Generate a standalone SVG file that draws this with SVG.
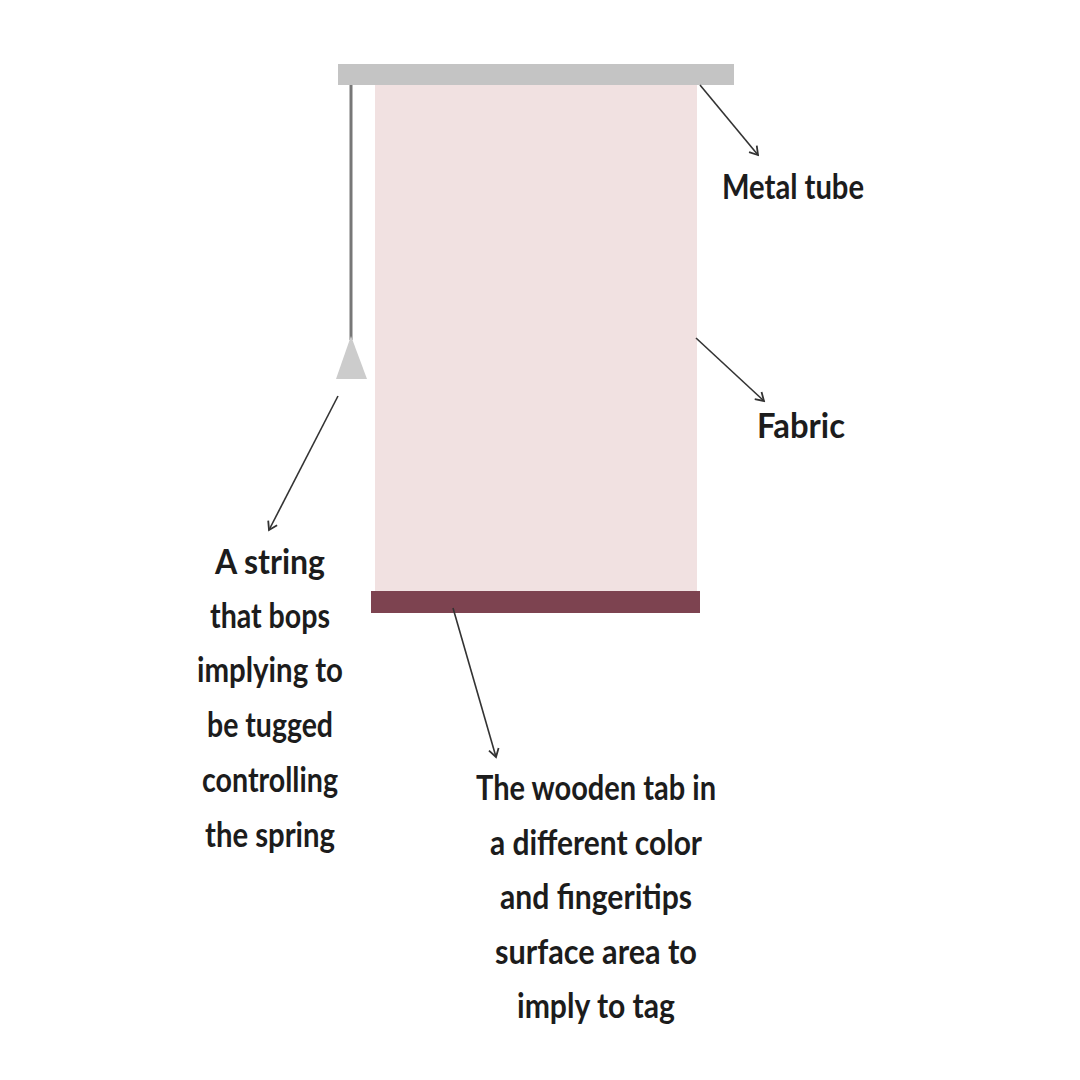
<svg xmlns="http://www.w3.org/2000/svg" width="1080" height="1080" viewBox="0 0 1080 1080">
<style>
.lbl{font-family:Lato,"Open Sans","Liberation Sans",sans-serif;font-size:35px;font-weight:700;fill:#1c1c1c;text-anchor:middle}
.arr{stroke:#333;stroke-width:1.6;fill:none;marker-end:url(#ah)}
</style>
<defs>
<marker id="ah" viewBox="0 0 12 12" refX="10" refY="6" markerWidth="12" markerHeight="12" markerUnits="userSpaceOnUse" orient="auto">
<path d="M2,1 L10,6 L2,11" fill="none" stroke="#333" stroke-width="1.8"/>
</marker>
</defs>
<rect width="1080" height="1080" fill="#ffffff"/>
<g id="fabric"><rect x="375" y="85" width="322" height="507" fill="#f1e1e1"/></g>
<g id="metal-tube"><rect x="338" y="64" width="396" height="21" fill="#c4c4c4"/></g>
<g id="wooden-tab"><rect x="371" y="591" width="329" height="22" fill="#7d4350"/></g>
<g id="string">
<line x1="351" y1="85" x2="351" y2="340" stroke="#777" stroke-width="3"/>
<polygon points="351,336 336,379 367,379" fill="#cccccc"/>
</g>
<g id="connectors">
<line class="arr" x1="700" y1="85" x2="758" y2="155"/>
<line class="arr" x1="696" y1="338" x2="764" y2="401"/>
<line class="arr" x1="338" y1="396" x2="269" y2="530"/>
<line class="arr" x1="453" y1="608" x2="496" y2="757"/>
</g>
<g id="label-metal"><text class="lbl" x="793" y="199" textLength="142" lengthAdjust="spacingAndGlyphs">Metal tube</text></g>
<g id="label-fabric"><text class="lbl" x="801" y="438" textLength="88" lengthAdjust="spacingAndGlyphs">Fabric</text></g>
<g id="label-string">
<text class="lbl" x="270" y="574" textLength="110" lengthAdjust="spacingAndGlyphs">A string</text>
<text class="lbl" x="270" y="628" textLength="120" lengthAdjust="spacingAndGlyphs">that bops</text>
<text class="lbl" x="270" y="682" textLength="146" lengthAdjust="spacingAndGlyphs">implying to</text>
<text class="lbl" x="270" y="737" textLength="126" lengthAdjust="spacingAndGlyphs">be tugged</text>
<text class="lbl" x="270" y="792" textLength="136" lengthAdjust="spacingAndGlyphs">controlling</text>
<text class="lbl" x="270" y="847" textLength="130" lengthAdjust="spacingAndGlyphs">the spring</text>
</g>
<g id="label-tab">
<text class="lbl" x="596" y="800" textLength="240" lengthAdjust="spacingAndGlyphs">The wooden tab in</text>
<text class="lbl" x="596" y="855" textLength="212" lengthAdjust="spacingAndGlyphs">a different color</text>
<text class="lbl" x="596" y="909" textLength="192" lengthAdjust="spacingAndGlyphs">and fingeritips</text>
<text class="lbl" x="596" y="964" textLength="202" lengthAdjust="spacingAndGlyphs">surface area to</text>
<text class="lbl" x="596" y="1018" textLength="158" lengthAdjust="spacingAndGlyphs">imply to tag</text>
</g>
</svg>
